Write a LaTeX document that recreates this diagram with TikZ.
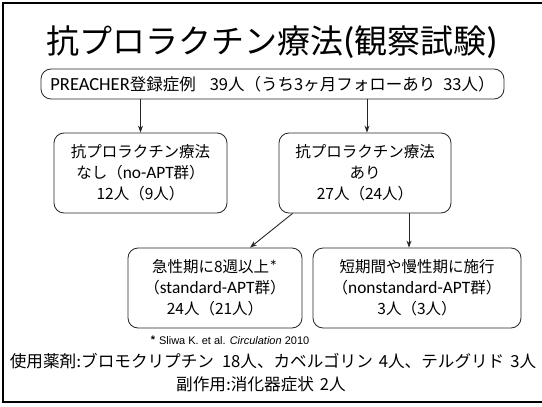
\documentclass[tikz,border=0pt]{standalone}
\usepackage{fontspec}
\setmainfont{Noto Sans CJK JP}
\newfontfamily\lat{Carlito}[Scale=1.12]
\newfontfamily\ari{Liberation Sans}
\usetikzlibrary{arrows.meta}
\tikzset{
  box/.style={draw=black!85, line width=0.8pt, rounded corners=10pt, align=center,
    inner sep=0pt, font=\fontsize{15.5}{21}\selectfont},
  arr/.style={draw=black!85, line width=0.9pt, -{Stealth[length=7pt,width=5pt]}},
}
\begin{document}
\begin{tikzpicture}[x=1pt,y=-1pt]
\useasboundingbox (0,0) rectangle (542,407);
\fill[white] (0,0) rectangle (542,407);
\draw[line width=1.6pt] (542,3) -- (3,3) -- (3,402) -- (542,402);
\node[font=\fontsize{33}{36}\selectfont] (title) at (272,42) {抗プロラクチン療法{\lat(}観察試験{\lat)}};
\node[box, minimum width=463, minimum height=30, font=\fontsize{16.5}{21}\selectfont] (top) at (272.5,84)
  {{\lat PREACHER}登録症例\hspace{14pt}39人（うち3ヶ月フォローあり\hspace{8pt}33人）};
\node[box, minimum width=173, minimum height=80] (nA) at (140.5,173)
  {抗プロラクチン療法\\なし（{\lat no-APT}群）\\12人（9人）};
\node[box, minimum width=172, minimum height=80] (nB) at (365,173)
  {抗プロラクチン療法\\あり\\27人（24人）};
\node[box, minimum width=174, minimum height=80] (nC) at (215,288)
  {急性期に8週以上{\lat *}\\（{\lat standard-APT}群）\\24人（21人）};
\node[box, minimum width=208, minimum height=80] (nD) at (417,288)
  {短期間や慢性期に施行\\（{\lat nonstandard-APT}群）\\3人（3人）};
\draw[arr] (top.south -| nA.north) -- (nA.north);
\draw[arr] ([xshift=2pt]top.south -| nB.north) -- ([xshift=2pt]nB.north);
\draw[arr] ([xshift=14pt]nB.south west) -- ([xshift=35pt]nC.north);
\draw[arr] ([xshift=44pt]nB.south) -- ([xshift=44pt]nB.south |- nD.north);
\node[font=\ari\fontsize{11}{13}\selectfont] (fn) at (230,340)
  {\raisebox{1pt}{\textbf{*}}\hspace{4pt}Sliwa K. et al. \textit{Circulation} 2010};
\node[font=\fontsize{16.6}{20}\selectfont] (drug) at (273,361)
  {使用薬剤{\lat :}ブロモクリプチン\hspace{8pt}18人、カベルゴリン\hspace{6pt}4人、テルグリド\hspace{6pt}3人};
\node[font=\fontsize{16.6}{20}\selectfont] (side) at (261,384)
  {副作用{\lat :}消化器症状\hspace{6pt}2人};
\end{tikzpicture}
\end{document}
